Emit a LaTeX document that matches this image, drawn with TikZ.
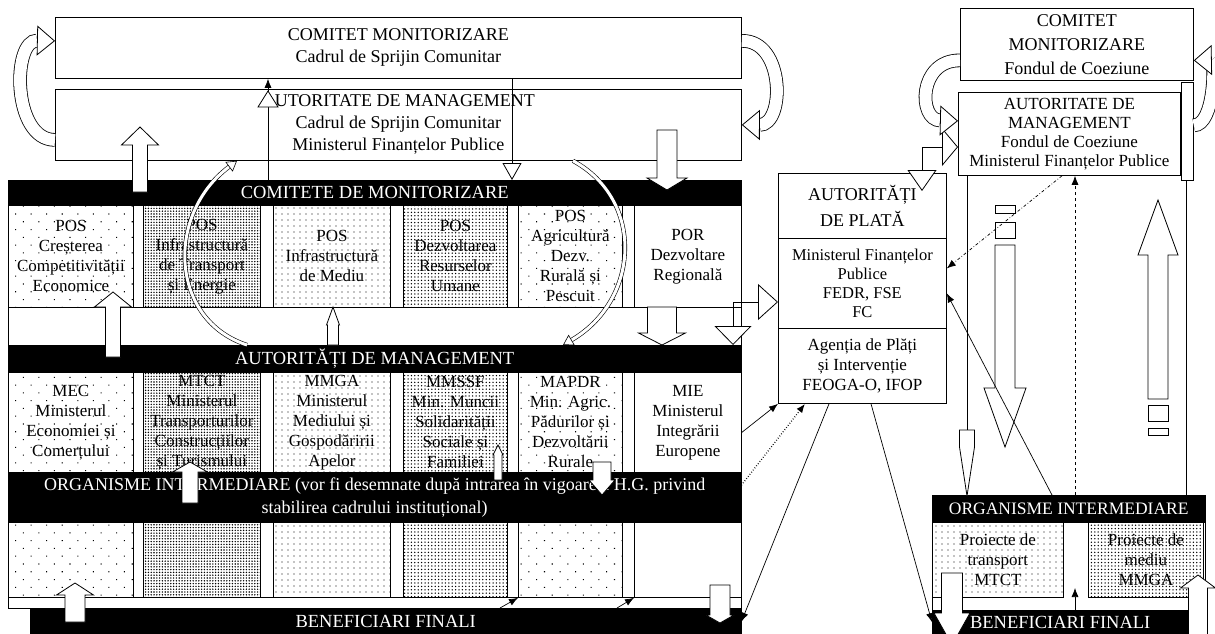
\documentclass[tikz,border=0pt]{standalone}
\usepackage{fontspec}
\setmainfont{Liberation Serif}
\usetikzlibrary{arrows.meta,patterns.meta}

\tikzset{
    caja/.style={draw, line width=0.8pt, anchor=north west, inner sep=0pt, align=center,
        font=\fontsize{17}{20}\selectfont},
    barra/.style={draw, fill=black, text=white, anchor=north west, inner sep=0pt, align=center,
        font=\fontsize{18.5}{23}\selectfont},
    rar/.style={pattern={Dots[distance=11pt,angle=45,radius=0.75pt]}},
    med/.style={pattern={Dots[distance=6pt,radius=0.7pt]}},
    des/.style={pattern={Dots[distance=2.8pt,radius=0.8pt]}},
    des2/.style={pattern={Dots[distance=3.4pt,radius=0.75pt]}},
    flecha/.style={draw, fill=white, line width=0.8pt},
    banda/.style={draw, double=white, double distance=12pt, line width=0.8pt,
        -{Triangle[fill=white, length=18pt, width=30pt, line width=0.8pt]}},
    fina/.style={draw, double=white, double distance=3pt, line width=0.6pt,
        -{Triangle[fill=white, length=10pt, width=12pt, line width=0.6pt]}},
    conector/.style={line width=0.7pt, -{Latex[length=9pt,width=7pt]}},
    codo/.style={line width=0.8pt},
}

% flecha de bloque: x, y base, y punta, ancho, ancho cabeza, largo cabeza
\newcommand{\bloque}[6]{%
    \pgfmathsetmacro{\ycap}{#3+sign(#2-#3)*#6}%
    \draw[flecha] ({#1-#4/2},#2) -- ({#1-#4/2},\ycap) -- ({#1-#5/2},\ycap) -- (#1,#3)
        -- ({#1+#5/2},\ycap) -- ({#1+#4/2},\ycap) -- ({#1+#4/2},#2) -- cycle;}

\begin{document}
\begin{tikzpicture}[x=1pt, y=-1pt]
    \useasboundingbox (0,0) rectangle (1215,634);
    % Cadrul de Sprijin Comunitar
    \node[caja, font=\fontsize{18}{22}\selectfont, minimum width=686pt, minimum height=61pt] (cm) at (55,17)
        {COMITET MONITORIZARE\\Cadrul de Sprijin Comunitar};
    \node[caja, font=\fontsize{18}{22}\selectfont, minimum width=686pt, minimum height=71pt] (am) at (55,89)
        {AUTORITATE DE MANAGEMENT\\Cadrul de Sprijin Comunitar\\Ministerul Finanțelor Publice};

    % Comitete de monitorizare
    \node[barra, minimum width=733pt, minimum height=25pt] (com) at (8,180) {COMITETE DE MONITORIZARE};
    \draw[line width=0.8pt] (8,205) rectangle (741,307);
    \draw[line width=0.8pt] (8,307) rectangle (741,345);
    \node[caja, rar, minimum width=125pt, minimum height=102pt] (pos1) at (8,205) {POS\\Creșterea\\Competitivității\\Economice};
    \node[caja, des, minimum width=117pt, minimum height=102pt] (pos2) at (143,205) {POS\\Infrastructură\\de Transport\\și Energie};
    \node[caja, med, minimum width=117pt, minimum height=102pt] (pos3) at (273,205) {POS\\Infrastructură\\de Mediu};
    \node[caja, des2, minimum width=104pt, minimum height=102pt] (pos4) at (403,205) {POS\\Dezvoltarea\\Resurselor\\Umane};
    \node[caja, rar, minimum width=104pt, minimum height=102pt] (pos5) at (518,205) {POS\\Agricultură\\Dezv.\\Rurală și\\Pescuit};
    \node[caja, minimum width=107pt, minimum height=102pt] (por) at (634,205) {POR\\Dezvoltare\\Regională};

    % Autoritati de management
    \node[barra, minimum width=733pt, minimum height=27pt] (aut) at (8,345) {AUTORITĂȚI DE MANAGEMENT};
    \draw[line width=0.8pt] (8,372) rectangle (741,472);
    \begin{scope}[every node/.append style={font=\fontsize{17}{19.2}\selectfont}]
    \node[caja, rar, minimum width=125pt, minimum height=100pt] (mec) at (8,372) {MEC\\Ministerul\\Economiei și\\Comerțului};
    \node[caja, des, minimum width=117pt, minimum height=100pt] (mtct) at (143,372) {MTCT\\Ministerul\\Transporturilor\\Construcțiilor\\și Turismului};
    \node[caja, med, minimum width=117pt, minimum height=100pt] (mmga) at (273,372) {MMGA\\Ministerul\\Mediului și\\Gospodăririi\\Apelor};
    \node[caja, des2, minimum width=104pt, minimum height=100pt] (mmssf) at (403,372) {MMSSF\\Min. Muncii\\Solidarității\\Sociale și\\Familiei};
    \node[caja, rar, minimum width=104pt, minimum height=100pt] (mapdr) at (518,372) {MAPDR\\Min. Agric.\\Pădurilor și\\Dezvoltării\\Rurale};
    \node[caja, minimum width=107pt, minimum height=100pt] (mie) at (634,372) {MIE\\Ministerul\\Integrării\\Europene};
    \end{scope}

    % Organisme intermediare
    \node[barra, font=\fontsize{18}{23}\selectfont, minimum width=733pt, minimum height=50pt] (org) at (8,472)
        {ORGANISME INTERMEDIARE (vor fi desemnate după intrarea în vigoare a H.G. privind\\stabilirea cadrului instituțional)};
    \draw[line width=0.8pt] (8,522) rectangle (741,597);
    \draw[line width=0.8pt] (8,597) rectangle (741,608);
    \node[caja, rar, minimum width=125pt, minimum height=75pt] (oi1) at (8,522) {};
    \node[caja, des, minimum width=117pt, minimum height=75pt] (oi2) at (143,522) {};
    \node[caja, med, minimum width=117pt, minimum height=75pt] (oi3) at (273,522) {};
    \node[caja, des2, minimum width=104pt, minimum height=75pt] (oi4) at (403,522) {};
    \node[caja, rar, minimum width=104pt, minimum height=75pt] (oi5) at (518,522) {};
    \node[caja, minimum width=107pt, minimum height=75pt] (oi6) at (634,522) {};
    \node[barra, minimum width=711pt, minimum height=27pt] (bf) at (30,608) {BENEFICIARI FINALI};

    % Autoritati de plata
    \node[caja, font=\fontsize{18}{26}\selectfont, minimum width=168pt, minimum height=65pt] (ap1) at (778,173) {AUTORITĂȚI\\DE PLATĂ};
    \node[caja, font=\fontsize{16.5}{19}\selectfont, minimum width=168pt, minimum height=90pt] (ap2) at (778,238)
        {Ministerul Finanțelor\\Publice\\FEDR, FSE\\FC};
    \node[caja, font=\fontsize{17}{20}\selectfont, minimum width=168pt, minimum height=75pt] (ap3) at (778,328)
        {Agenția de Plăți\\și Intervenție\\FEOGA-O, IFOP};

    % Fondul de Coeziune
    \node[caja, font=\fontsize{18}{24}\selectfont, minimum width=233pt, minimum height=72pt] (cmfc) at (960,8)
        {COMITET\\MONITORIZARE\\Fondul de Coeziune};
    \node[caja, font=\fontsize{17}{19}\selectfont, minimum width=222pt, minimum height=83pt] (amfc) at (958,92)
        {AUTORITATE DE\\MANAGEMENT\\Fondul de Coeziune\\Ministerul Finanțelor Publice};
    \node[caja, fill=white, minimum width=12pt, minimum height=98pt] (barfc) at (1181,82) {};
    \draw[line width=0.8pt] (932,522) rectangle (1205,610);
    \node[barra, font=\fontsize{17.5}{21}\selectfont, minimum width=273pt, minimum height=27pt] (oifc) at (932,495) {ORGANISME INTERMEDIARE};
    \node[caja, med, minimum width=131pt, minimum height=75pt] (ptr) at (932,522) {Proiecte de\\transport\\MTCT};
    \node[caja, des2, minimum width=115pt, minimum height=75pt] (pmed) at (1088,522) {Proiecte de\\mediu\\MMGA};
    \node[barra, minimum width=256pt, minimum height=24pt] (bffc) at (932,610) {BENEFICIARI FINALI};

    % Flechas de bloque
    \bloque{140}{192}{127}{15}{37}{18}
    \bloque{667}{130}{190}{20}{40}{12}
    \bloque{113}{357}{292}{15}{37}{15}
    \bloque{662}{307}{345}{29}{47}{12}
    \bloque{333}{345}{307}{11}{13}{18}
    \bloque{190}{503}{462}{16}{35}{10}
    \bloque{498}{480}{445}{8}{10}{10}
    \bloque{602}{462}{495}{18}{26}{15}
    \bloque{75}{622}{583}{20}{37}{12}
    \bloque{720}{585}{623}{20}{28}{8}
    \bloque{967}{430}{496}{15}{15}{49}
    \bloque{952}{573}{645}{21}{36}{32}
    \bloque{1198}{650}{575}{19}{35}{13}
    \draw[flecha] (995,205) rectangle (1015,213);
    \draw[flecha] (995,222) rectangle (1015,238);
    \bloque{1005}{245}{447}{20}{42}{59}
    \draw[flecha] (1148,405) rectangle (1168,421);
    \draw[flecha] (1148,428) rectangle (1168,435);
    \bloque{1158}{399}{200}{20}{40}{55}

    % Conectores
    \coordinate (xa) at (268,0);
    \coordinate (xb) at (512,0);
    \draw[conector] (xa |- com.north) -- (xa |- cm.south);
    \draw[flecha] (258,107) -- (268,91) -- (278,107) -- cycle;
    \draw[line width=0.7pt, -{Triangle[fill=white, length=17pt, width=19pt, line width=0.8pt]}] (xb |- cm.south) -- (xb |- com.north);

    \coordinate (codo) at (733,302);
    \draw[codo, {Triangle[fill=white, length=19pt, width=37pt, line width=0.8pt]}-{Triangle[fill=white, length=20pt, width=36pt, line width=0.8pt]}]
        (codo |- aut.north) -- (codo) -- (codo -| ap2.west);
    \coordinate (codofc) at (922,147);
    \coordinate (codofc2) at (922,191);
    \draw[codo, {Triangle[fill=white, length=21pt, width=29pt, line width=0.8pt]}-{Triangle[fill=white, length=16pt, width=38pt, line width=0.8pt]}]
        (codofc2) -- (codofc) -- (codofc -| amfc.west);

    \draw[conector] ([yshift=-10pt]mie.east) -- (ap3.south west);
    \draw[conector, dotted, line width=1.3pt] ([yshift=12pt]org.east) -- ([xshift=27pt]ap3.south west);
    \draw[conector] ([xshift=51pt]ap3.south west) -- (bf.east);
    \draw[conector] ([xshift=93pt]ap3.south west) -- (bffc.west);
    \draw[conector] ([xshift=470pt]bf.north west) -- (oi5.south west);
    \draw[conector] ([xshift=587pt]bf.north west) -- (oi6.south west);

    \draw[conector] ([xshift=120pt]oifc.north west) -- ([yshift=-10pt]ap2.east);
    \draw[conector, dash dot] ([xshift=104pt]amfc.south west) -- ([yshift=15pt]ap2.east);
    \coordinate (xd) at (1075,0);
    \coordinate (dvarf) at (1075,588);
    \draw[conector, dashed] (xd |- oifc.north) -- (xd |- amfc.south);
    \draw[conector] (xd |- bffc.north) -- (dvarf);
    \coordinate (xe) at (967,0);
    \coordinate (ce) at (967,430);
    \draw[codo] (xe |- amfc.south) -- (ce);
    \coordinate (xf) at (1186,0);
    \draw[codo] (xf |- barfc.south) -- (xf |- oifc.north);

    % Flechas curvas
    \draw[banda] ([yshift=-15pt]am.west) .. controls (12,140) and (12,40) .. ([yshift=7pt]cm.west);
    \draw[banda] ([yshift=7pt]cm.east) .. controls (785,40) and (785,125) .. (am.east);
    \draw[banda] ([yshift=-16pt]cmfc.west) .. controls (918,60) and (918,120) .. ([yshift=13pt]amfc.west);
    \draw[banda] ([yshift=6pt]barfc.east) .. controls (1215,125) and (1215,60) .. ([yshift=-16pt]cmfc.east);
    \draw[fina] ([xshift=239pt]aut.north west) .. controls (170,320) and (165,215) .. ([xshift=182pt]am.south west);
    \draw[fina] ([xshift=518pt]am.south west) .. controls (645,200) and (640,300) .. ([xshift=555pt]aut.north west);
\end{tikzpicture}
\end{document}
